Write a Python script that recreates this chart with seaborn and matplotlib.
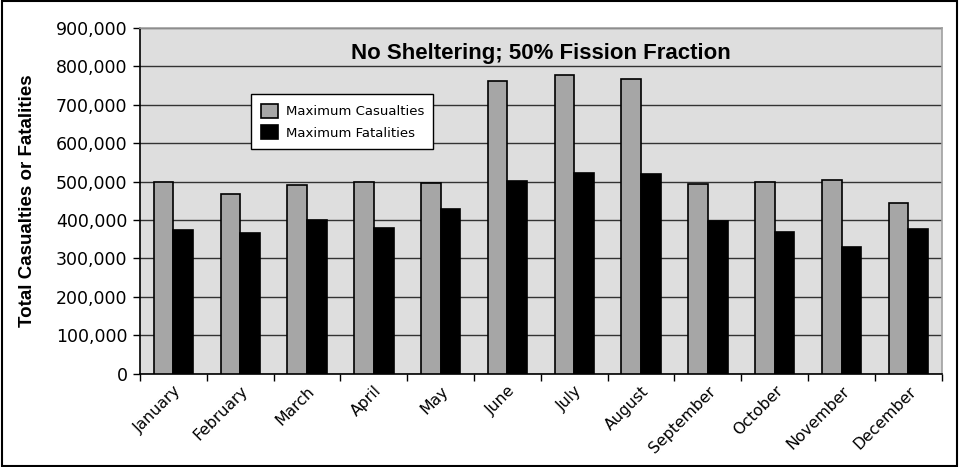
import numpy as np
import pandas as pd
import seaborn as sns
import matplotlib.pyplot as plt
from matplotlib.patches import Rectangle
from matplotlib.ticker import FuncFormatter

# Values
months = ["January", "February", "March", "April", "May", "June",
          "July", "August", "September", "October", "November", "December"]
casualties = [498000, 469000, 491000, 499000, 496000, 762000,
              777000, 766000, 494000, 498000, 505000, 445000]
fatalities = [375000, 366000, 401000, 378000, 429000, 501000,
              523000, 521000, 398000, 368000, 331000, 377000]
series_names = ["Maximum Casualties", "Maximum Fatalities"]

df = pd.DataFrame({
    "month": months * 2,
    "value": casualties + fatalities,
    "series": [series_names[0]] * 12 + [series_names[1]] * 12,
})

sns.set_style("white")
plt.rcParams['font.family'] = ['DejaVu Sans']
plt.rcParams['text.color'] = 'black'
plt.rcParams['axes.labelcolor'] = 'black'
plt.rcParams['xtick.color'] = 'black'
plt.rcParams['ytick.color'] = 'black'

fig = plt.figure(figsize=(9.59, 4.67), dpi=100)
ax = fig.add_axes([0.146, 0.200, 0.836, 0.740])
ax.set_facecolor("#dedede")

sns.barplot(data=df, x="month", y="value", hue="series",
            palette=["#a6a6a6", "#000000"], width=0.59,
            edgecolor="black", linewidth=1.2, saturation=1, ax=ax, zorder=3)

# Grid lines
ax.set_ylim(0, 900000)
ax.set_yticks(np.arange(0, 900001, 100000))
ax.yaxis.set_major_formatter(FuncFormatter(lambda v, p: f"{int(v):,}"))
ax.grid(axis="y", color="#333333", linewidth=1.0, zorder=0)
ax.set_axisbelow(True)

# Excel style x ticks: marks between categories, labels at centres
ax.set_xlim(-0.5, 11.5)
ax.set_xticks(np.arange(-0.5, 12, 1.0))
ax.set_xticklabels([])
ax.set_xticks(np.arange(12), minor=True)
ax.set_xticklabels(months, minor=True, rotation=45, ha="right",
                   rotation_mode="anchor", fontsize=11.3)
ax.tick_params(axis="x", which="major", direction="out", length=5,
               width=1, color="black", bottom=True)
ax.tick_params(axis="x", which="minor", length=0, pad=7)
ax.tick_params(axis="y", direction="out", length=5, width=1,
               color="black", left=True, labelsize=12.5, pad=4)

for s in ["left", "bottom"]:
    ax.spines[s].set_color("black")
    ax.spines[s].set_linewidth(1.2)
for s in ["top", "right"]:
    ax.spines[s].set_color("#a0a0a0")
    ax.spines[s].set_linewidth(1.2)

ax.set_xlabel("")
ax.set_ylabel("Total Casualties or Fatalities", fontsize=13.5,
              fontweight="bold", family="Liberation Sans", labelpad=14)

ax.text(0.5, 0.925, "No Sheltering; 50% Fission Fraction",
        transform=ax.transAxes, ha="center", va="center", color="black",
        fontsize=16, fontweight="bold", family="Liberation Sans")

leg = ax.legend(loc="upper left", bbox_to_anchor=(0.139, 0.808),
                borderaxespad=0, frameon=True, fancybox=False, fontsize=9.5,
                handlelength=1.3, handleheight=1.25, borderpad=0.7,
                labelspacing=0.55, handletextpad=0.6)
leg.get_frame().set_edgecolor("black")
leg.get_frame().set_facecolor("white")
leg.get_frame().set_alpha(1)
leg.get_frame().set_linewidth(1.0)

# Frame around the whole figure
fig.patches.append(Rectangle((0.002, 0.003), 0.996, 0.994,
                             transform=fig.transFigure, fill=False,
                             edgecolor="black", linewidth=1.5))

fig.savefig("out.png", dpi=100)
